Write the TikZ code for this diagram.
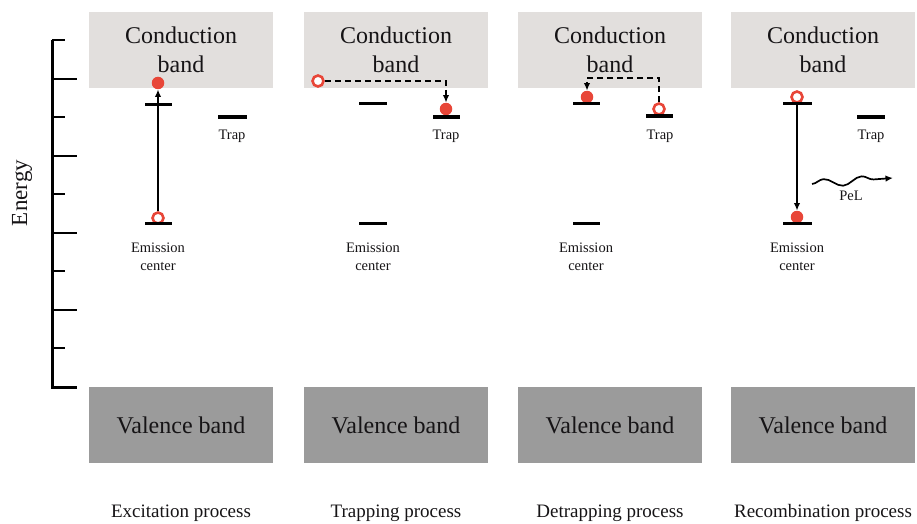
\documentclass[tikz,border=0pt]{standalone}
\usepackage{fontspec}
\setmainfont{Liberation Serif}
\usetikzlibrary{arrows.meta,decorations.pathmorphing}
\definecolor{cbg}{RGB}{226,223,221}
\definecolor{vbg}{RGB}{155,155,155}
\definecolor{ered}{RGB}{232,70,56}
\definecolor{ink}{RGB}{22,20,22}
\tikzset{cb/.style={fill=cbg,minimum width=184pt,minimum height=76pt,inner sep=0pt,align=center,text=ink,font=\fontsize{24}{29}\selectfont},
 vb/.style={cb,fill=vbg},
 lv/.style={line width=3pt},
 ful/.style={circle,fill=ered,minimum size=12.5pt,inner sep=0pt},
 hol/.style={circle,draw=ered,line width=2.6pt,fill=white,minimum size=11pt,inner sep=0pt},
 flow/.style={-{Latex[length=7.5pt,width=6.5pt]},line width=1.5pt},
 dsh/.style={flow,dash pattern=on 6pt off 4pt},
 lab/.style={align=center,text=ink,font=\fontsize{14.5}{18.5}\selectfont},
 prc/.style={text=ink,font=\fontsize{19}{22}\selectfont}}
\begin{document}
\begin{tikzpicture}[x=1pt,y=-1pt]
\useasboundingbox (0,0) rectangle (917,524);
% energy axis
\draw[line width=3pt] (52,40)--(52,387)--(77,387);
\foreach \i [evaluate=\i as \l using {mod(\i,2)==0 ? 13 : 25}] in {0,...,8}
 \draw[line width=2pt] (52,40+38.56*\i)--++(\l,0);
\node[rotate=90,text=ink,font=\fontsize{23}{26}\selectfont](en) at (22,193){Energy};
% bands
\foreach \x/\p [count=\k] in {181/Excitation,396/Trapping,610/Detrapping,823/Recombination}{
 \node[cb](cb\k) at (\x,50){Conduction\\band};
 \node[vb](vb\k) at (\x,425){Valence band};
 \node[prc](pr\k) at (\x,513){\p{} process};}
% excitation
\node[ful](e1) at (158,83){};\node[hol](h1) at (158,218){};
\draw[flow](h1)--(e1);
\draw[lv](145,105)--(172,105);\draw[lv](145,223)--(172,223);\draw[lv](218,117)--(247,117);
\node[lab](tr1) at (232,136){Trap};\node[lab](em1) at (158,257){Emission\\center};
% trapping
\node[hol](h2) at (318,81){};\node[ful](e2) at (446,109){};
\draw[dsh](h2)-|(e2);
\draw[lv](359,104)--(387,104);\draw[lv](359,223)--(387,223);\draw[lv](433,117)--(460,117);
\node[lab](tr2) at (446,136){Trap};\node[lab](em2) at (373,257){Emission\\center};
% detrapping
\node[hol](h3) at (659,109){};\node[ful](e3) at (587,97){};
\coordinate(t3) at (659,78);
\draw[dsh](h3)--(t3)-|(e3);
\draw[lv](573,104)--(600,104);\draw[lv](573,223)--(600,223);\draw[lv](646,116)--(673,116);
\node[lab](tr3) at (660,136){Trap};\node[lab](em3) at (586,257){Emission\\center};
% recombination
\node[hol](h4) at (797,97){};\node[ful](e4) at (797,217){};
\draw[flow](h4)--(e4);
\draw[lv](783,104)--(812,104);\draw[lv](783,223)--(812,223);\draw[lv](857,117)--(885,117);
\coordinate(w0) at (812,184);\coordinate(w1) at (893,178);
\draw[flow,line width=1.7pt,decorate,decoration={snake,amplitude=4pt,segment length=38pt,post length=7pt}](w0)--(w1);
\node[lab](pel) at (851,196){PeL};
\node[lab](tr4) at (871,136){Trap};\node[lab](em4) at (797,257){Emission\\center};
\end{tikzpicture}
\end{document}
